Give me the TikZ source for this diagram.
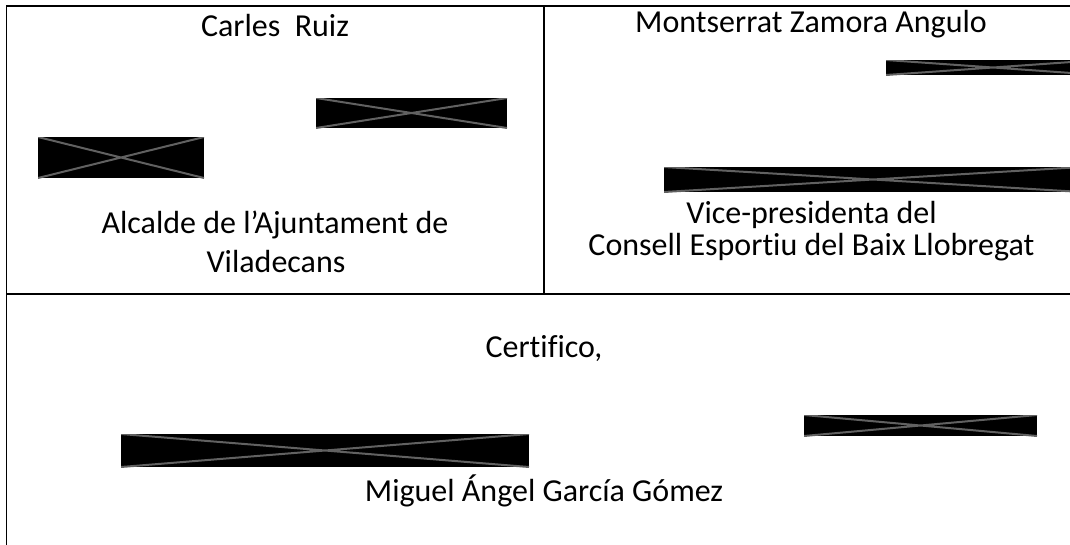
\documentclass[tikz,border=0pt]{standalone}
\usepackage{fontspec}
\setmainfont{Carlito}[Ligatures=NoCommon]
\begin{document}
\begin{tikzpicture}[x=1pt,y=-1pt,
  rule/.style={draw=black,line width=1.8pt},
  txt/.style={anchor=base,inner sep=0pt,font=\fontsize{32}{39}\selectfont},
  redact/.style={rectangle,fill=black,inner sep=0pt,
    path picture={\draw[draw=black!62,line width=2pt]
      (path picture bounding box.north west) -- (path picture bounding box.south east)
      (path picture bounding box.south west) -- (path picture bounding box.north east);}}
]
\useasboundingbox (0,0) rectangle (1070,544);
\clip (0,0) rectangle (1070,544);
\fill[white] (0,0) rectangle (1070,544);
% table rules
\coordinate (tl) at (6.5,6);
\coordinate (tr) at (1075,6);
\coordinate (bl) at (6.5,550);
\coordinate (ml) at (6.5,294);
\coordinate (mr) at (1075,294);
\coordinate (dt) at (544,6);
\coordinate (db) at (544,294);
\draw[rule] (bl) -- (tl) -- (tr);
\draw[rule] (ml) -- (mr);
\draw[rule] (dt) -- (db);
% texts
\node[txt] (n1) at (275,36) {Carles\ \ Ruiz};
\node[txt] (r1a) at (275,233) {Alcalde de l’Ajuntament de};
\node[txt] (r1b) at (276,272) {Viladecans};
\node[txt] (n2) at (811,32) {Montserrat Zamora Angulo};
\node[txt] (r2a) at (811.5,223) {Vice-presidenta del};
\node[txt] (r2b) at (811.5,255) {Consell Esportiu del Baix Llobregat};
\node[txt] (cert) at (544,357) {Certifico,};
\node[txt] (n3) at (544,501) {Miguel Ángel García Gómez};
% redacted signatures
\node[redact,minimum width=191pt,minimum height=30pt] (sa) at (411.5,113) {};
\node[redact,minimum width=166pt,minimum height=41pt] (sb) at (121,157.5) {};
\node[redact,minimum width=214pt,minimum height=15pt] (sc) at (993,67.5) {};
\node[redact,minimum width=418pt,minimum height=25pt] (sd) at (873,179.5) {};
\node[redact,minimum width=408pt,minimum height=33pt] (se) at (325,450.5) {};
\node[redact,minimum width=233pt,minimum height=21pt] (sf) at (920.5,425.5) {};
\end{tikzpicture}
\end{document}
